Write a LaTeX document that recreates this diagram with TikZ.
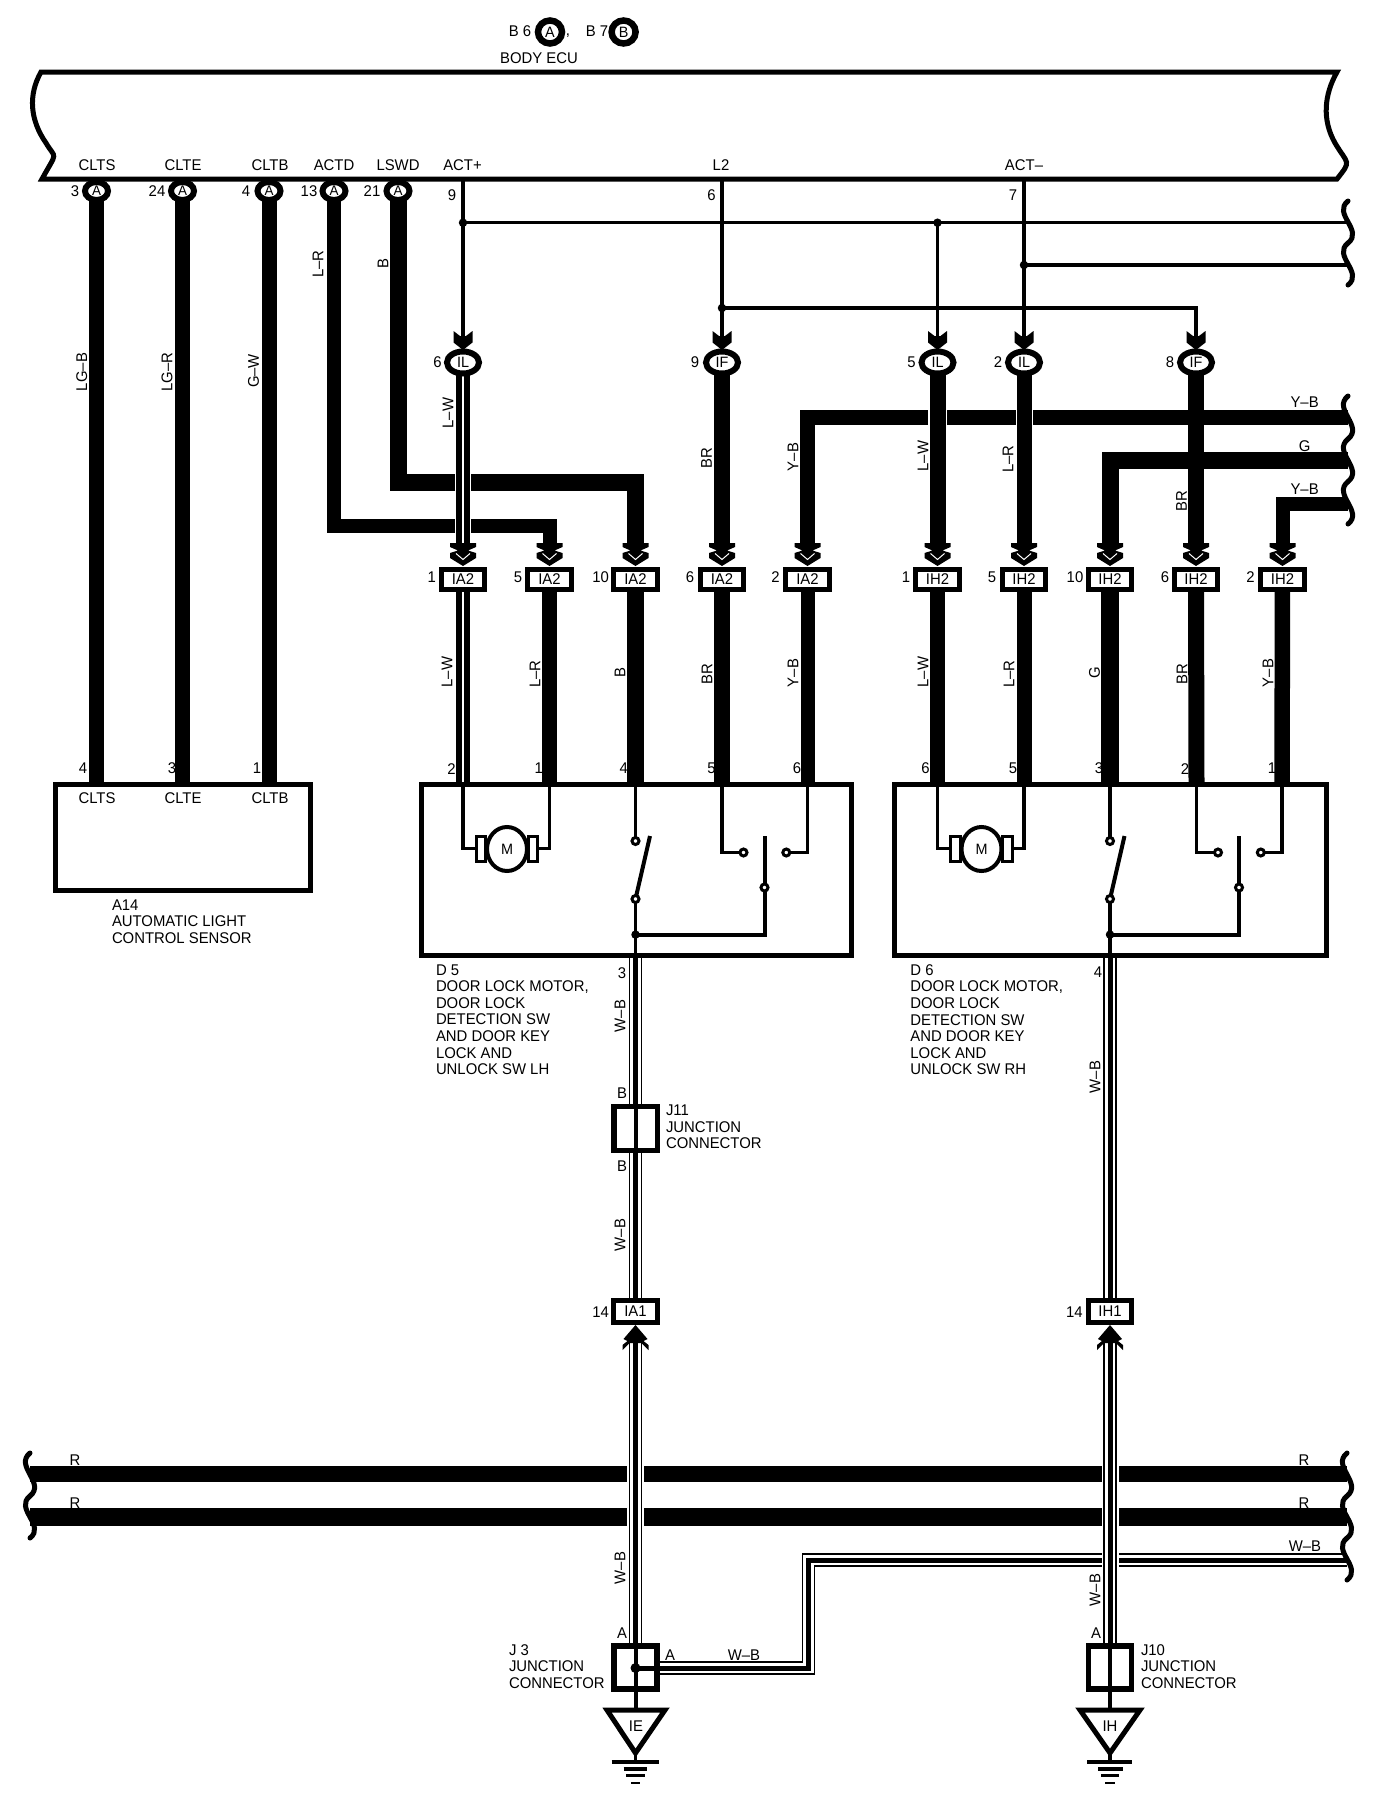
\documentclass[tikz,border=0pt]{standalone}
\usepackage{fontspec}
\setmainfont{Liberation Sans}[FakeStretch=0.96]
\usetikzlibrary{shapes.geometric}
\pgfdeclarelayer{paper}
\pgfdeclarelayer{wires}
\pgfsetlayers{paper,wires,main}
\newcount\lblno
\newcommand\wt[3]{\global\advance\lblno by 1 \node[lab] (lab\the\lblno) at (#1,#2) {#3};}
\newcommand\vt[3]{\global\advance\lblno by 1 \node[lab,rotate=90] (lab\the\lblno) at (#1,#2) {#3};}
\newcommand\blk[3]{\global\advance\lblno by 1 \node[blocktext] (lab\the\lblno) at (#1,#2) {#3};}
% down arrow, large: named coordinate is where the wire stops
\newcommand\arrowbig[2]{\coordinate (#1) at (#2,544);
  \begin{scope}[shift={(#2,543)}]
  \fill (-13,0)--(13,0)--(13,4)--(5,7.5)--(13,10)--(13,15)--(0,23)--(-13,15)--(-13,10)--(-5,7.5)--(-13,4)--cycle;
  \draw[white,line width=1pt] (-7,10.5)--(0,16.5)--(7,10.5);
  \end{scope}}
\newcommand\arrowsmall[2]{\coordinate (#1) at (#2,336);
  \begin{scope}[shift={(#2,331)}]
  \fill (-9.5,0)--(-3,5)--(3,5)--(9.5,0)--(9.5,11.5)--(0,19)--(-9.5,11.5)--cycle;
  \end{scope}}
\newcommand\arrowup[2]{\coordinate (#1) at (#2,1343);
  \begin{scope}[shift={(#2,1325)}]
  \fill (0,0)--(12,14)--(8,16)--(13,20)--(13,25)--(6,18)--(-6,18)--(-13,25)--(-13,20)--(-8,16)--(-12,14)--cycle;
  \end{scope}}
% brace-like wavy break
\newcommand\wavy[3]{\draw[wave] (#1,#2) .. controls ({#1-16},{#2+0.3*(#3-#2)}) and ({#1+16},{#2+0.7*(#3-#2)}) .. (#1,#3);}
\newcommand\wbwire[1]{\draw[wbo] #1; \draw[wbw] #1; \draw[wbc] #1;}
% door lock unit: #1 prefix, #2 horizontal shift
\newcommand\doorunit[2]{%
  \begin{scope}[xshift=#2pt]
  \coordinate (#1t1) at (463,784);
  \coordinate (#1t2) at (549.5,784);
  \coordinate (#1t3) at (635.5,784);
  \coordinate (#1t4) at (722,784);
  \coordinate (#1t5) at (807.5,784);
  \coordinate (#1b) at (635.5,956);
  \coordinate (#1armA) at (650,836);
  \coordinate (#1armB) at (764.5,836.4);
  \node[bracket] (#1bl) at (481,848.5) {};
  \node[bracket] (#1br) at (533,848.5) {};
  \node[motor] (#1m) at (507,849) {M};
  \node[cdot] (#1c1) at (635.5,841) {};
  \node[cdot] (#1c2) at (635.5,899) {};
  \node[cdot] (#1p) at (764.5,887.5) {};
  \node[cdot] (#1cl) at (743.5,852.5) {};
  \node[cdot] (#1cr) at (786.3,852.5) {};
  \node[jdot] (#1jd) at (635.5,934.6) {};
  \draw[thinw] (#1t1) |- (#1bl.west);
  \draw[thinw] (#1t2) |- (#1br.east);
  \draw[thinw] (#1t3) -- (#1c1);
  \draw[thinw] (#1c2) -- (#1jd.center) -- (#1b);
  \draw[thinw,line width=4pt] (#1c2) -- (#1armA);
  \draw[thinw,line width=4pt] (#1p) -- (#1armB);
  \draw[thinw,line width=4pt] (#1jd.center) -| (#1p);
  \draw[thinw] (#1t4) |- (#1cl);
  \draw[thinw] (#1t5) |- (#1cr);
  \end{scope}}
\begin{document}
\begin{tikzpicture}[x=1pt,y=-1pt,
  every node/.style={inner sep=0pt,outer sep=0pt},
  lab/.style={font=\fontsize{15.5}{17}\selectfont},
  blocktext/.style={anchor=north west,align=left,font=\fontsize{15.5}{16.6}\selectfont},
  ringA/.style={draw,fill=white,ellipse,line width=6pt,minimum width=23pt,minimum height=18pt,font=\fontsize{14}{15}\selectfont},
  ringI/.style={draw,fill=white,ellipse,line width=6pt,minimum width=32pt,minimum height=22pt,font=\fontsize{15}{16}\selectfont},
  ringT/.style={draw,fill=white,ellipse,line width=6.5pt,minimum width=24pt,minimum height=23pt,font=\fontsize{15}{16}\selectfont},
  conn/.style={draw,fill=white,line width=5pt,minimum width=43.5pt,minimum height=20pt,font=\fontsize{15.5}{17}\selectfont},
  unitbox/.style={draw,line width=5pt},
  junc/.style={draw,fill=white,line width=5.5pt,minimum width=43pt,minimum height=43pt},
  bracket/.style={draw,fill=white,line width=3pt,minimum width=9.5pt,minimum height=25pt},
  motor/.style={draw,fill=white,ellipse,line width=4pt,minimum width=40pt,minimum height=44pt,font=\fontsize{15}{16}\selectfont},
  cdot/.style={draw,fill=white,circle,line width=3pt,minimum size=7pt},
  jdot/.style={fill=black,circle,minimum size=8.5pt},
  wire/.style={line width=#1,line join=miter,line cap=butt},
  thinw/.style={line width=3.2pt,line join=miter,line cap=butt},
  halo/.style={white,line width=#1,line cap=butt},
  wave/.style={line width=5pt,line cap=round},
  wbo/.style={line width=13.5pt,line join=miter,line cap=butt},
  wbw/.style={white,line width=10.5pt,line join=miter,line cap=butt},
  wbc/.style={line width=5pt,line join=miter,line cap=butt},
  gbar/.style={line cap=butt}]
\begin{pgfonlayer}{paper}
  \fill[white] (0,0) rectangle (1392,1812);
\end{pgfonlayer}
\useasboundingbox (0,0) rectangle (1392,1812);

% ---- Body ECU outline
\draw[line width=5pt,line join=miter]
  (42,179) .. controls (58,150) and (56,160) .. (46,143)
  .. controls (30,120) and (28,95) .. (41,72)
  -- (1337,72) .. controls (1324,95) and (1322,120) .. (1335,143)
  .. controls (1348,165) and (1352,160) .. (1337,179) -- cycle;
\wt{520}{31}{B 6}
\node[ringT] (ringtopA) at (550,32) {A};
\wt{568}{36}{,}
\wt{597}{31}{B 7}
\node[ringT] (ringtopB) at (623.6,32) {B};
\wt{539}{58}{BODY ECU}
\wt{97}{165}{CLTS}
\wt{183}{165}{CLTE}
\wt{270}{165}{CLTB}
\wt{334}{165}{ACTD}
\wt{398}{165}{LSWD}
\wt{462.5}{165}{ACT+}
\wt{721}{165}{L2}
\wt{1024}{165}{ACT–}

% ---- ECU pins
\node[ringA] (pa3) at (96.5,191) {A};
\node[ringA] (pa24) at (182.5,191) {A};
\node[ringA] (pa4) at (269,191) {A};
\node[ringA] (pa13) at (334,191) {A};
\node[ringA] (pa21) at (398,191) {A};
\wt{75}{191}{3}
\wt{157}{191}{24}
\wt{246}{191}{4}
\wt{309}{191}{13}
\wt{372}{191}{21}
\wt{452}{195}{9}
\wt{711.5}{195}{6}
\wt{1013}{195}{7}
\coordinate (e9) at (463,179);
\coordinate (e6) at (722,179);
\coordinate (e7) at (1024,179);
\node[jdot] (ja) at (463,222.7) {};
\node[jdot] (jb) at (937.5,222.7) {};
\node[jdot] (jc) at (1024,265) {};
\node[jdot] (jd) at (722,308) {};
\coordinate (ea) at (1348,222.7);
\coordinate (ec) at (1348,265);
\coordinate (jdr) at (1196,308);
\wavy{1348}{201}{243}
\wavy{1348}{243}{285}

% ---- intermediate connectors
\arrowsmall{sa1}{463}
\arrowsmall{sa2}{722}
\arrowsmall{sa3}{937.5}
\arrowsmall{sa4}{1024}
\arrowsmall{sa5}{1196}
\node[ringI] (il1) at (463,362.5) {IL};
\node[ringI] (if1) at (722,362.5) {IF};
\node[ringI] (il2) at (937.5,362.5) {IL};
\node[ringI] (il3) at (1024,362.5) {IL};
\node[ringI] (if2) at (1196,362.5) {IF};
\wt{437.5}{362.5}{6}
\wt{695}{362.5}{9}
\wt{911.6}{362.5}{5}
\wt{998}{362.5}{2}
\wt{1170}{362.5}{8}

% ---- IA2 / IH2 connectors
\arrowbig{ab1}{463}
\arrowbig{ab2}{549.5}
\arrowbig{ab3}{635.5}
\arrowbig{ab4}{722}
\arrowbig{ab5}{807.5}
\arrowbig{ab6}{937.5}
\arrowbig{ab7}{1024}
\arrowbig{ab8}{1110}
\arrowbig{ab9}{1196}
\arrowbig{ab10}{1282.5}
\node[conn] (ia1) at (463,579) {IA2};
\node[conn] (ia2) at (549.5,579) {IA2};
\node[conn] (ia3) at (635.5,579) {IA2};
\node[conn] (ia4) at (722,579) {IA2};
\node[conn] (ia5) at (807.5,579) {IA2};
\node[conn] (ih1) at (937.5,579) {IH2};
\node[conn] (ih2) at (1024,579) {IH2};
\node[conn] (ih3) at (1110,579) {IH2};
\node[conn] (ih4) at (1196,579) {IH2};
\node[conn] (ih5) at (1282.5,579) {IH2};
\wt{431.7}{577.5}{1}
\wt{518}{577.5}{5}
\wt{600.6}{577.5}{10}
\wt{690}{577.5}{6}
\wt{775.6}{577.5}{2}
\wt{906}{577.5}{1}
\wt{992}{577.5}{5}
\wt{1075}{577.5}{10}
\wt{1165}{577.5}{6}
\wt{1250.6}{577.5}{2}

% ---- A14 sensor
\node[unitbox,minimum width=255.6pt,minimum height=106.5pt] (a14) at (183,837.7) {};
\coordinate (at1) at (96.5,784);
\coordinate (at2) at (182.5,784);
\coordinate (at3) at (269,784);
\wt{97}{798}{CLTS}
\wt{183}{798}{CLTE}
\wt{270}{798}{CLTB}
\wt{83}{768.6}{4}
\wt{172}{768.6}{3}
\wt{257}{768.6}{1}
\blk{112}{899.5}{A14\\AUTOMATIC LIGHT\\CONTROL SENSOR}

% ---- D5, D6 units
\node[unitbox,minimum width=430pt,minimum height=171.5pt] (d5) at (636,870.2) {};
\node[unitbox,minimum width=432pt,minimum height=171.5pt] (d6) at (1110.5,870.2) {};
\doorunit{u}{0}
\doorunit{v}{474.5}
\wt{451.5}{768.6}{2}
\wt{538.7}{768.6}{1}
\wt{623.7}{768.6}{4}
\wt{711.5}{768.6}{5}
\wt{797}{768.6}{6}
\wt{925.6}{768.6}{6}
\wt{1013}{768.6}{5}
\wt{1099}{768.6}{3}
\wt{1185}{768.6}{2}
\wt{1272}{768.6}{1}
\blk{436}{964.5}{D 5\\DOOR LOCK MOTOR,\\DOOR LOCK\\DETECTION SW\\AND DOOR KEY\\LOCK AND\\UNLOCK SW LH}
\blk{910.4}{964.5}{D 6\\DOOR LOCK MOTOR,\\DOOR LOCK\\DETECTION SW\\AND DOOR KEY\\LOCK AND\\UNLOCK SW RH}
\wt{622}{973}{3}
\wt{1098}{972}{4}

% ---- J11
\node[junc,minimum width=43.5pt,minimum height=44pt] (j11) at (635.5,1128.7) {};
\draw[line width=4pt] (j11.north) -- (j11.south);
\wt{622}{1093}{B}
\wt{622}{1166}{B}
\blk{666}{1105}{J11\\JUNCTION\\CONNECTOR}

% ---- IA1, IH1
\node[conn,minimum height=21.8pt] (ia14) at (635.5,1311.4) {IA1};
\node[conn,minimum height=21.8pt] (ih14) at (1110,1311.4) {IH1};
\wt{600.6}{1312}{14}
\wt{1074.4}{1312}{14}
\arrowup{upa}{635.5}
\arrowup{upb}{1110}

% ---- J3, J10
\node[junc] (j3) at (635.5,1667.5) {};
\node[junc] (j10) at (1110,1667.5) {};
\draw[line width=4pt] (j3.north) -- (j3.south);
\draw[line width=4pt] (j10.north) -- (j10.south);
\node[jdot,minimum size=10pt] (j3d) at (635.5,1668) {};
\draw[line width=5pt] (j3d.center) -- (j3d -| j3.east);
\wt{622}{1633}{A}
\wt{1096}{1633}{A}
\wt{670}{1655}{A}
\wt{744}{1655}{W–B}
\wt{1305}{1546}{W–B}
\blk{509}{1644.5}{J 3\\JUNCTION\\CONNECTOR}
\blk{1141}{1644.5}{J10\\JUNCTION\\CONNECTOR}

% ---- Grounds
\draw[line width=5pt,line join=miter] (607,1710) -- (665,1710) -- (635.5,1753) -- cycle;
\draw[line width=5pt,line join=miter] (1080,1710) -- (1140,1710) -- (1110,1753) -- cycle;
\coordinate (g1) at (635.5,1710);
\coordinate (g2) at (1110,1710);
\wt{636}{1726}{IE}
\wt{1110}{1726}{IH}
\draw[line width=3.5pt] (635.5,1753) -- (635.5,1762);
\draw[line width=3.5pt] (1110,1753) -- (1110,1762);
\draw[gbar,line width=3.5pt] (611.6,1762) -- (659.3,1762);
\draw[gbar,line width=4pt] (623.7,1768.6) -- (647.3,1768.6);
\draw[gbar,line width=3pt] (626.4,1775.4) -- (644.6,1775.4);
\draw[gbar,line width=2.5pt] (631,1783) -- (640,1783);
\draw[gbar,line width=3.5pt] (1087,1762) -- (1132,1762);
\draw[gbar,line width=4pt] (1098,1768.6) -- (1123,1768.6);
\draw[gbar,line width=3pt] (1101,1775.4) -- (1119,1775.4);
\draw[gbar,line width=2.5pt] (1105,1783) -- (1115,1783);

% ---- right side wire labels
\wt{1304.6}{402.6}{Y–B}
\wt{1304.6}{446}{G}
\wt{1304.6}{489}{Y–B}
\wt{75}{1460}{R}
\wt{75}{1503}{R}
\wt{1304}{1460}{R}
\wt{1304}{1503}{R}

% ---- rotated wire labels
\vt{81.7}{372}{LG–B}
\vt{167}{372}{LG–R}
\vt{253.6}{371}{G–W}
\vt{318}{264}{L–R}
\vt{383}{264}{B}
\vt{448}{413}{L–W}
\vt{706.6}{458}{BR}
\vt{793}{457}{Y–B}
\vt{923}{456}{L–W}
\vt{1008}{459}{L–R}
\vt{1181.5}{501}{BR}
\vt{447}{672}{L–W}
\vt{535}{674}{L–R}
\vt{620}{673}{B}
\vt{707}{674}{BR}
\vt{793}{673}{Y–B}
\vt{923}{672}{L–W}
\vt{1009}{674}{L–R}
\vt{1094.6}{673}{G}
\vt{1182}{674}{BR}
\vt{1268}{673}{Y–B}
\vt{620}{1016}{W–B}
\vt{620}{1235}{W–B}
\vt{620}{1568}{W–B}
\vt{1095}{1077}{W–B}
\vt{1095}{1590}{W–B}

% ---- wavy breaks
\wavy{1348}{396}{439}
\wavy{1348}{439}{481.6}
\wavy{1348}{481.6}{524}
\wavy{30}{1453}{1496}
\wavy{30}{1496}{1538}
\wavy{1347}{1453}{1496}
\wavy{1347}{1496}{1538}
\wavy{1347}{1538}{1580}

\coordinate (bl21) at (398,482);
\coordinate (bl13) at (334,525.6);
\coordinate (ybr) at (1348,417);
\coordinate (gr) at (1348,460);
\coordinate (y2r) at (1348,503.6);
\coordinate (r1l) at (30,1474);
\coordinate (r1r) at (1347,1474);
\coordinate (r2l) at (30,1517);
\coordinate (r2r) at (1347,1517);
\coordinate (wb1) at (808.5,1668);
\coordinate (wb2) at (808.5,1560);
\coordinate (wbe) at (1347,1560);

\begin{pgfonlayer}{wires}
  % sensor wires
  \draw[wire=15pt] (pa3) -- (at1);
  \draw[wire=15pt] (pa24) -- (at2);
  \draw[wire=15pt] (pa4) -- (at3);
  % thick horizontals that other wires cross
  \draw[wire=14pt] (pa13.center) -- (bl13) -| (ab2);
  \draw[wire=17pt] (pa21.center) -- (bl21) -| (ab3);
  \draw[wire=15pt] (ab5) |- (ybr);
  \draw[wire=17pt] (ab8) |- (gr);
  \draw[wire=14pt] (ab10) |- (y2r);
  \draw[wire=16pt] (r1l) -- (r1r);
  \draw[wire=18pt] (r2l) -- (r2r);
  \wbwire{(j3d.center) -- (wb1) -- (wb2) -- (wbe)}
  % white gaps where a wire passes over
  \draw[halo=16pt] (il1) -- (ab1);
  \draw[halo=18.5pt] (il2) -- (ab6);
  \draw[halo=17pt] (il3) -- (ab7);
  \draw[halo=16.5pt] (ia14) -- (j3);
  \draw[halo=17pt] (ih14) -- (j10);
  % wires between the intermediate connectors
  \draw[wire=14pt] (il1) -- (ab1);
  \draw[halo=2pt] (il1) -- (ab1);
  \draw[wire=16pt] (if1) -- (ab4);
  \draw[wire=16pt] (il2) -- (ab6);
  \draw[wire=15pt] (il3) -- (ab7);
  \draw[wire=16pt] (if2) -- (ab9);
  % ECU thin wires
  \draw[thinw,line width=3.6pt] (e9) -- (sa1);
  \draw[thinw,line width=3.6pt] (e6) -- (sa2);
  \draw[thinw,line width=3.6pt] (e7) -- (sa4);
  \draw[thinw] (ja.center) -- (ea);
  \draw[thinw,line width=3.6pt] (jb.center) -- (sa3);
  \draw[thinw] (jc.center) -- (ec);
  \draw[thinw] (jd.center) -- (jdr) -- (sa5);
  % wires into the units
  \draw[wire=14pt] (ia1) -- (ut1);
  \draw[halo=2pt] (ia1) -- (ut1);
  \draw[wire=15pt] (ia2) -- (ut2);
  \draw[wire=17.5pt] (ia3) -- (ut3);
  \draw[wire=16pt] (ia4) -- (ut4);
  \draw[wire=14pt] (ia5) -- (ut5);
  \draw[wire=15pt] (ih1) -- (vt1);
  \draw[wire=15pt] (ih2) -- (vt2);
  \draw[wire=18pt] (ih3) -- (vt3);
  \draw[wire=16pt] (ih4) -- (vt4);
  \draw[wire=15.5pt] (ih5) -- (vt5);
  % W-B wires to ground
  \wbwire{(ub) -- (j11.center)}
  \wbwire{(j11.center) -- (ia14.center)}
  \wbwire{(vb) -- (ih14.center)}
  \wbwire{(upa) -- (j3.center)}
  \wbwire{(upb) -- (j10.center)}
  \draw[thinw,line width=4pt] (j3.south) -- (g1);
  \draw[thinw,line width=4pt] (j10.south) -- (g2);
\end{pgfonlayer}
\end{tikzpicture}
\end{document}
